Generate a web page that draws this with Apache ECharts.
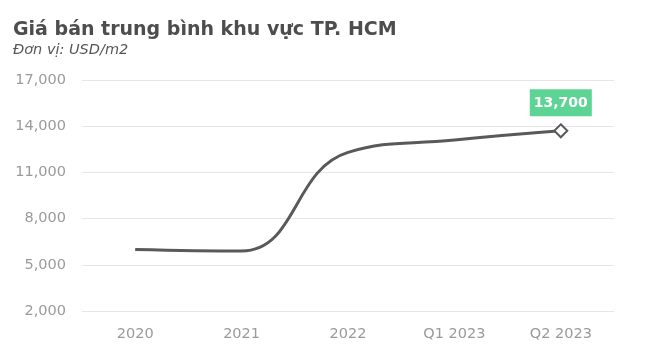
<!DOCTYPE html>
<html>
<head>
<meta charset="utf-8">
<script src="https://cdn.jsdelivr.net/npm/echarts@6/dist/echarts.min.js"></script>
<style>
  html, body { margin: 0; padding: 0; background: #fff; }
  #chart { width: 647px; height: 355px; }
</style>
</head>
<body>
<div id="chart"></div>
<script>
const categories = ['2020', '2021', '2022', 'Q1 2023', 'Q2 2023'];
const prices = [6000, 5900, 12300, 13100, 13700];

const chartDom = document.getElementById('chart');
const myChart = echarts.init(chartDom);
const font = 'DejaVu Sans';

const option = {
  animation: false,
  title: {
    text: 'Giá bán trung bình khu vực TP. HCM',
    subtext: 'Đơn vị: USD/m2',
    left: 8,
    top: 16,
    itemGap: 3,
    textStyle: { fontFamily: font, fontSize: 19, fontWeight: 'bold', color: '#4d4d4d' },
    subtextStyle: { fontFamily: font, fontSize: 14.5, fontStyle: 'italic', color: '#555' }
  },
  grid: { left: 82, right: 33, top: 80, bottom: 44 },
  xAxis: {
    type: 'category',
    data: categories,
    boundaryGap: true,
    axisLine: { show: false },
    axisTick: { show: false },
    axisLabel: { color: '#9a9a9a', fontSize: 14.5, fontFamily: font, margin: 16 }
  },
  yAxis: {
    type: 'value',
    min: 2000,
    max: 17000,
    interval: 3000,
    axisLine: { show: false },
    axisTick: { show: false },
    axisLabel: {
      color: '#9a9a9a', fontSize: 14.5, fontFamily: font, margin: 16,
      formatter: v => v.toLocaleString('en-US')
    },
    splitLine: { lineStyle: { color: '#e6e6e6', width: 1 } }
  },
  series: [
    {
      type: 'line',
      data: prices.map((v, i) => i === prices.length - 1
        ? {
            value: v,
            symbol: 'diamond',
            symbolSize: 13,
            label: {
              show: true,
              position: 'top',
              distance: 7,
              formatter: p => p.value.toLocaleString('en-US'),
              backgroundColor: '#5dd394',
              color: '#fff',
              fontFamily: font,
              fontWeight: 'bold',
              fontSize: 14,
              padding: [7, 4, 6, 4]
            }
          }
        : { value: v, symbol: 'none' }),
      smooth: 0.45,
      showSymbol: true,
      lineStyle: { color: '#595959', width: 3 },
      itemStyle: { color: '#fff', borderColor: '#595959', borderWidth: 2 }
    }
  ]
};
myChart.setOption(option);
</script>
</body>
</html>
